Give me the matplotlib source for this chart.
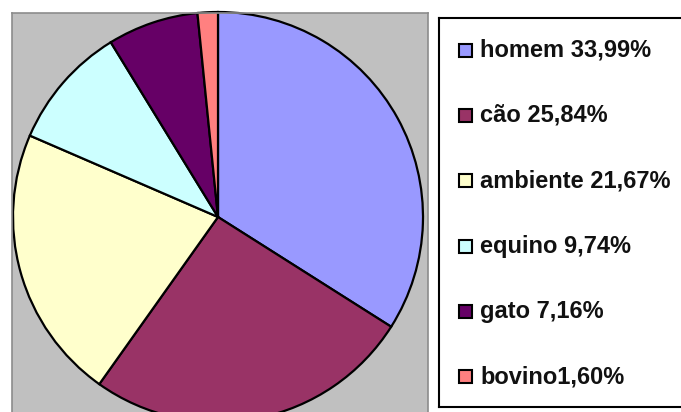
import matplotlib.pyplot as plt
from matplotlib.patches import Rectangle

labels = ['homem 33,99%', 'cão 25,84%', 'ambiente 21,67%', 'equino 9,74%', 'gato 7,16%', 'bovino1,60%']
values = [33.99, 25.84, 21.67, 9.74, 7.16, 1.60]
colors = ['#9999FF', '#993366', '#FFFFCC', '#CCFFFF', '#660066', '#FF8080']

W, H = 681, 412
fig = plt.figure(figsize=(W / 100, H / 100), dpi=100)
fig.patch.set_facecolor('white')


def px_axes(x0, y0, x1, y1):
    # pixel box (top-left origin) -> figure axes
    return fig.add_axes([x0 / W, 1 - y1 / H, (x1 - x0) / W, (y1 - y0) / H])


# pie area
cx, cy, r = 218, 217, 205
x0, y0, x1, y1 = 12, 13, 428, 415
ax = px_axes(x0, y0, x1, y1)
ax.pie(values, colors=colors, startangle=90, counterclock=False,
       wedgeprops=dict(edgecolor='black', linewidth=1.6))
ax.set_aspect('auto')
ax.set_xlim((x0 - cx) / r, (x1 - cx) / r)
ax.set_ylim((cy - y1) / r, (cy - y0) / r)
ax.set_frame_on(True)
ax.set_facecolor('#C0C0C0')
for s in ax.spines.values():
    s.set_color('#8C8C8C')
    s.set_linewidth(1.2)
ax.set_xticks([])
ax.set_yticks([])

# legend box
lx0, ly0, lx1, ly1 = 439, 18, 700, 407
lax = px_axes(lx0, ly0, lx1, ly1)
lax.set_xlim(lx0, lx1)
lax.set_ylim(ly1, ly0)
lax.set_xticks([])
lax.set_yticks([])
for s in lax.spines.values():
    s.set_color('black')
    s.set_linewidth(1.5)

first_y, step = 50, 65.4
for i, (lab, col) in enumerate(zip(labels, colors)):
    yc = first_y + i * step
    lax.add_patch(Rectangle((459, yc - 6.5), 13, 13, facecolor=col,
                            edgecolor='black', linewidth=1.5))
    lax.text(480, yc, lab, ha='left', va='center', fontsize=17,
             fontweight='bold', family='Liberation Sans', color='#111111')

fig.savefig('out.png', dpi=100)
